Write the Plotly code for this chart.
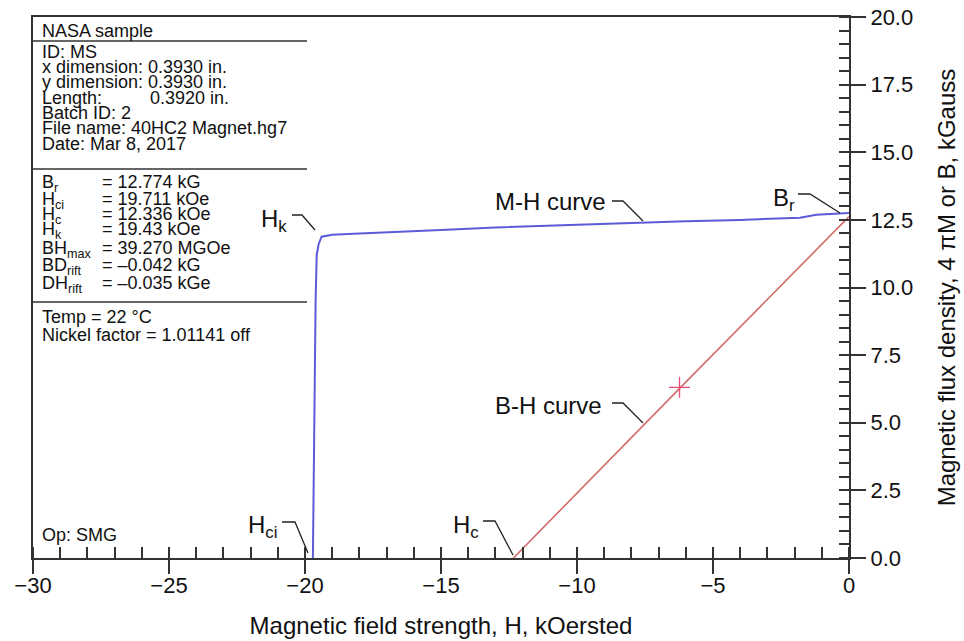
import plotly.graph_objects as go

# ---- data ----
mh_H = [-19.71, -19.66, -19.61, -19.57, -19.50, -19.39, -19.0, -18.0, -17.0, -15.0,
        -13.0, -11.0, -9.0, -7.6, -6.0, -4.0, -2.5, -1.8, -1.2, -0.6, 0.0]
mh_M = [0.0, 5.0, 9.5, 11.2, 11.6, 11.88, 11.95, 12.0, 12.05, 12.13,
        12.22, 12.29, 12.35, 12.40, 12.45, 12.50, 12.54, 12.58, 12.69, 12.72, 12.75]
bh_H = [-12.336, -6.2, 0.0]
bh_B = [0.0, 6.3, 12.62]
bhmax_H = [-6.23]
bhmax_B = [6.31]

x_ticks = [-30, -25, -20, -15, -10, -5, 0]
y_ticks = [0, 2.5, 5, 7.5, 10, 12.5, 15, 17.5, 20]

FONT = "Liberation Sans, Arial, sans-serif"
AX = "#333333"

# plot area in pixels
L, R, T, B = 33, 849, 17, 558
W, H = 964, 641


def px(x, y):
    """pixel -> paper coordinates"""
    return (x - L) / (R - L), (B - y) / (B - T)


fig = go.Figure()
fig.add_trace(go.Scatter(x=mh_H, y=mh_M, mode="lines",
                         line=dict(color="#4a4ad6", width=2), opacity=0.9,
                         showlegend=False, hoverinfo="skip"))
fig.add_trace(go.Scatter(x=bh_H, y=bh_B, mode="lines",
                         line=dict(color="#d26b6b", width=1.6),
                         showlegend=False, hoverinfo="skip"))
fig.add_trace(go.Scatter(x=bhmax_H, y=bhmax_B, mode="markers",
                         marker=dict(symbol="cross-thin", size=15,
                                     line=dict(color="#e8507a", width=1.3)),
                         showlegend=False, hoverinfo="skip"))
# invisible trace to carry the overlay axes (inside halves of major ticks)
fig.add_trace(go.Scatter(x=bh_H, y=bh_B, mode="lines", xaxis="x2", yaxis="y2",
                         line=dict(width=0), opacity=0, showlegend=False,
                         hoverinfo="skip"))

fig.update_layout(
    template="none",
    width=W, height=H,
    margin=dict(l=L, r=W - R, t=T, b=H - B, autoexpand=False),
    paper_bgcolor="white", plot_bgcolor="white",
    font=dict(family=FONT, color="#111111", size=18),
    xaxis=dict(range=[-30, 0], tickvals=x_ticks, ticks="outside", ticklen=14,
               tickwidth=2, tickcolor=AX, showline=True, linewidth=2,
               linecolor=AX, mirror=True, showgrid=False, zeroline=False,
               automargin=False,
               tickfont=dict(size=22), ticklabelstandoff=-7,
               minor=dict(ticks="inside", dtick=1, ticklen=11, tickwidth=1.5,
                          tickcolor=AX, showgrid=False),
               title=dict(text="Magnetic field strength, H, kOersted",
                          font=dict(size=24), standoff=20)),
    xaxis2=dict(range=[-30, 0], overlaying="x", anchor="y", side="bottom",
                tickvals=x_ticks, ticks="inside", ticklen=11, tickwidth=2,
                tickcolor=AX, showticklabels=False, showline=False,
                automargin=False,
                showgrid=False, zeroline=False),
    yaxis=dict(range=[0, 20], tickvals=y_ticks, tickformat=".1f", side="right",
               ticks="outside", ticklen=15, tickwidth=1.5, tickcolor=AX,
               showline=True, linewidth=2, linecolor=AX, mirror=True,
               showgrid=False, zeroline=False, tickfont=dict(size=22),
               ticklabelstandoff=0, automargin=False,
               minor=dict(ticks="inside", dtick=0.5, ticklen=10, tickwidth=1.5,
                          tickcolor=AX, showgrid=False),
               title=dict(text="Magnetic flux density, 4 \u03c0M or B, kGauss",
                          font=dict(size=24), standoff=26)),
    yaxis2=dict(range=[0, 20], overlaying="y", anchor="x", side="right",
                tickvals=y_ticks, ticks="inside", ticklen=10, tickwidth=1.5,
                tickcolor=AX, showticklabels=False, showline=False,
                automargin=False,
                showgrid=False, zeroline=False),
)

shapes = []
# info box separator lines
for yy in (41, 169, 302):
    x0, y0 = px(L, yy)
    x1, _ = px(307, yy)
    shapes.append(dict(type="line", xref="paper", yref="paper", x0=x0, x1=x1,
                       y0=y0, y1=y0, line=dict(color=AX, width=1.5)))

# leader lines (pixel polylines)
leaders = [
    [(292, 215), (302, 215), (315, 230)],   # Hk
    [(612, 201), (623, 201), (643, 221)],   # M-H curve
    [(798, 194), (810, 194), (840, 213)],   # Br
    [(612, 403), (623, 403), (643, 423)],   # B-H curve
    [(282, 522), (295, 522), (308, 553)],   # Hci
    [(483, 521), (495, 521), (513, 555)],   # Hc
]
for pts in leaders:
    pp = [px(*p) for p in pts]
    path = "M {} {} ".format(*pp[0]) + " ".join("L {} {}".format(*p) for p in pp[1:])
    shapes.append(dict(type="path", xref="paper", yref="paper", path=path,
                       line=dict(color="#222222", width=1.3)))
fig.update_layout(shapes=shapes)

ann = []


def text(x, y, s, size=18, xanchor="left", yanchor="middle"):
    xp, yp = px(x, y)
    ann.append(dict(x=xp, y=yp, xref="paper", yref="paper", text=s,
                    showarrow=False, xanchor=xanchor, yanchor=yanchor,
                    font=dict(size=size, family=FONT, color="#111111")))


BOX = 18
text(40, 31, "NASA sample", BOX)
text(40, 52, "ID: MS", BOX)
text(40, 67.5, "x dimension: 0.3930 in.", BOX)
text(40, 82.5, "y dimension: 0.3930 in.", BOX)
text(40, 97.5, "Length:", BOX)
text(148, 97.5, "0.3920 in.", BOX)
text(40, 112.5, "Batch ID: 2", BOX)
text(40, 128, "File name: 40HC2 Magnet.hg7", BOX)
text(40, 144, "Date: Mar 8, 2017", BOX)

rows = [
    (181, "B<sub>r</sub>", "= 12.774 kG"),
    (198, "H<sub>ci</sub>", "= 19.711 kOe"),
    (213, "H<sub>c</sub>", "= 12.336 kOe"),
    (228, "H<sub>k</sub>", "= 19.43 kOe"),
    (247, "BH<sub>max</sub>", "= 39.270 MGOe"),
    (264, "BD<sub>rift</sub>", "= \u20130.042 kG"),
    (282, "DH<sub>rift</sub>", "= \u20130.035 kGe"),
]
for yy, lab, val in rows:
    text(40, yy - 11, lab, BOX, yanchor="top")
    text(100, yy - 11, val, BOX, yanchor="top")

text(40, 317, "Temp", BOX)
text(89, 317, "= 22 \u00b0C", BOX)
text(40, 335, "Nickel factor = 1.01141 off", BOX)
text(40, 535, "Op: SMG", BOX)

LAB = 24
text(289, 203, "H<sub>k</sub>", LAB, xanchor="right", yanchor="top")
text(608, 201, "M-H curve", LAB, xanchor="right")
text(797, 182, "B<sub>r</sub>", LAB, xanchor="right", yanchor="top")
text(604, 405, "B-H curve", LAB, xanchor="right")
text(279, 509, "H<sub>ci</sub>", LAB, xanchor="right", yanchor="top")
text(481, 509, "H<sub>c</sub>", LAB, xanchor="right", yanchor="top")

fig.update_layout(annotations=ann)
fig.write_html("out.html",
               config={"displayModeBar": False},
               post_script="document.body.style.margin='0';"
                           "document.body.style.padding='0';")
